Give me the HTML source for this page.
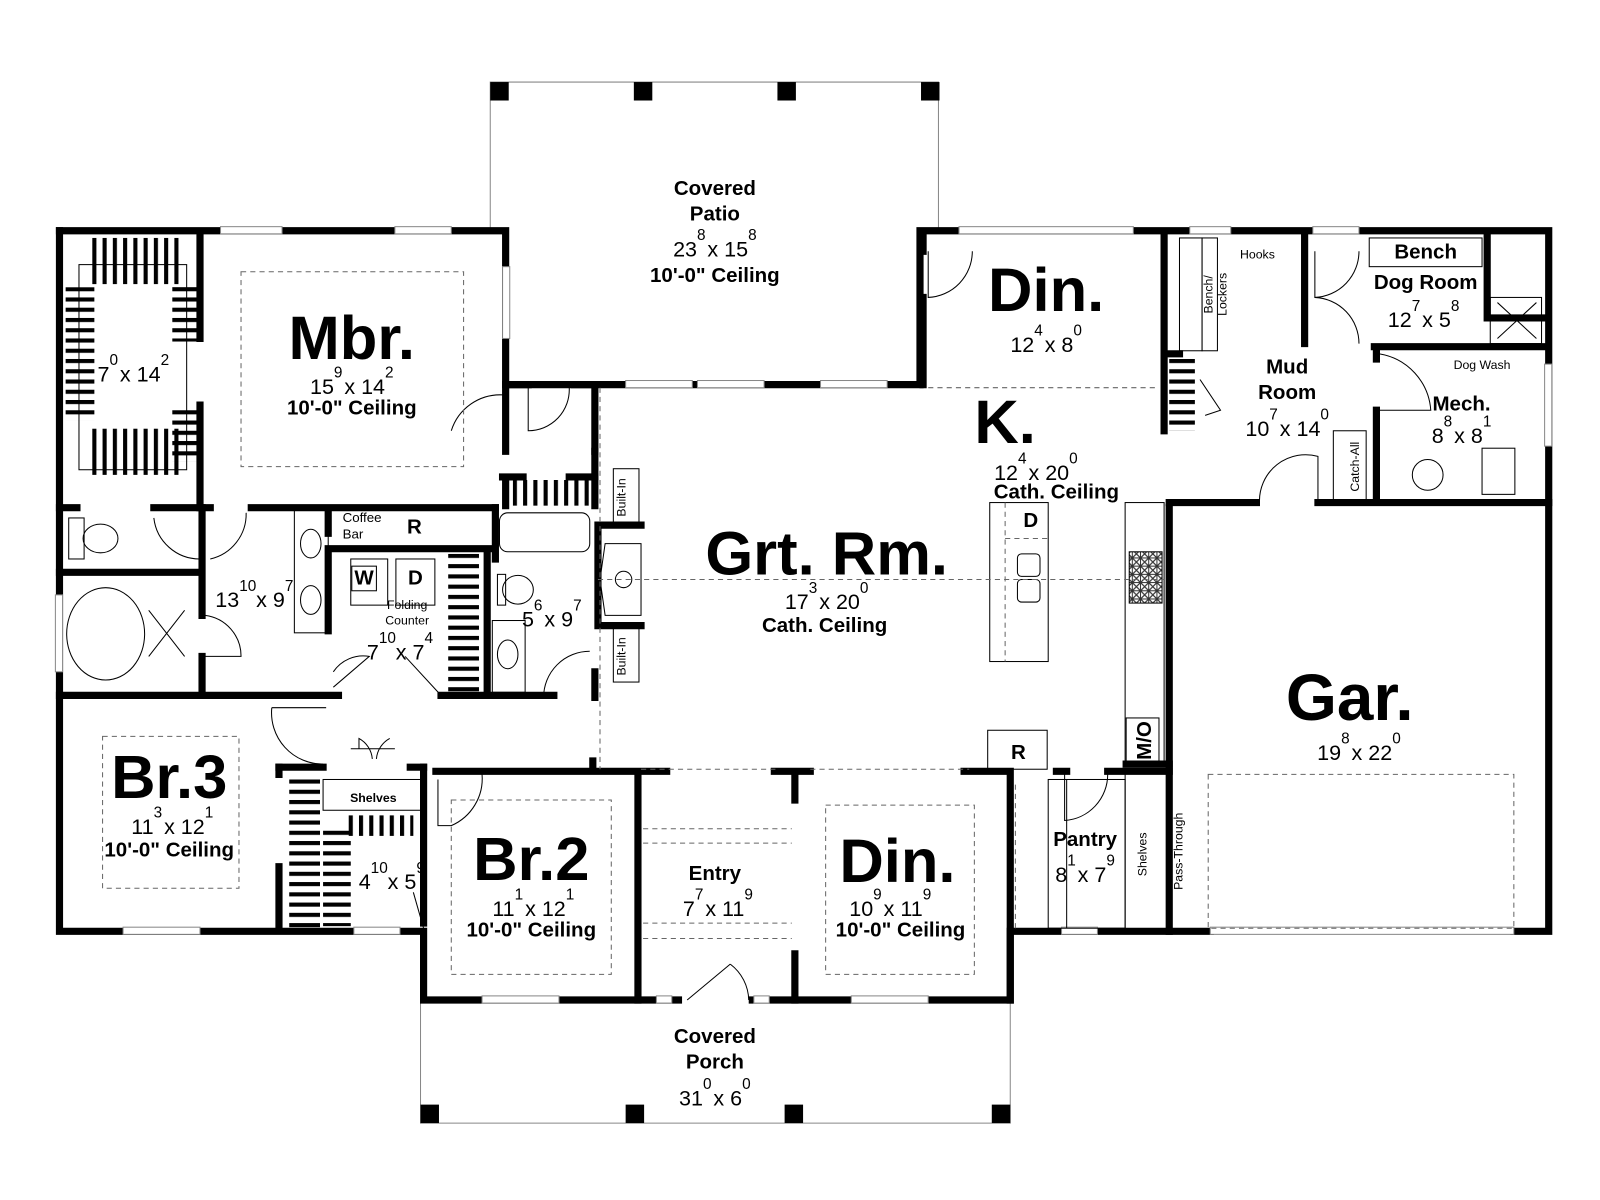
<!DOCTYPE html>
<html><head><meta charset="utf-8"><style>
html,body{margin:0;padding:0;background:#fff;}
svg{display:block;}
text{font-family:"Liberation Sans",Arial,sans-serif;fill:#000;}
.big{font-weight:bold;font-size:60px;text-anchor:middle;}
.d{font-size:21px;text-anchor:middle;}
.d tspan.u{font-size:15px;}
.l{font-size:20px;text-anchor:middle;font-weight:bold;}
.sm{font-size:12px;text-anchor:middle;}
.w{stroke:#000;stroke-width:7;fill:none;stroke-linecap:square;}
.t{stroke:#000;stroke-width:1;fill:none;}
.g{stroke:#888;stroke-width:1;fill:none;}
.ds{stroke:#666;stroke-width:1;fill:none;stroke-dasharray:5 4;}
</style></head><body>
<svg width="1600" height="1200" viewBox="0 0 1560 1170" xmlns="http://www.w3.org/2000/svg">
<defs>
<pattern id="pv" width="10" height="40" patternUnits="userSpaceOnUse"><rect x="0" y="0" width="4" height="40" fill="#000"/></pattern>
<pattern id="ph" width="40" height="10" patternUnits="userSpaceOnUse"><rect x="0" y="0" width="40" height="4" fill="#000"/></pattern>
<pattern id="st" width="8" height="8" patternUnits="userSpaceOnUse"><rect width="8" height="8" fill="#fff"/><path d="M0 0 L8 8 M8 0 L0 8" stroke="#333" stroke-width="1.2"/><rect width="8" height="8" fill="none" stroke="#333" stroke-width="1"/></pattern>
</defs>
<rect width="1560" height="1170" fill="#fff"/>

<path class="g" d="M478 222 V80 H915 V222"/>
<rect x="478" y="80" width="18" height="18"/><rect x="618" y="80" width="18" height="18"/><rect x="758" y="80" width="18" height="18"/><rect x="898" y="80" width="18" height="18"/>
<path class="g" d="M410 975 V1095 H985 V975"/>
<rect x="410" y="1077" width="18" height="18"/><rect x="610" y="1077" width="18" height="18"/><rect x="765" y="1077" width="18" height="18"/><rect x="967" y="1077" width="18" height="18"/>

<path class="w" d="M58 225 H493 V375 H897 V225 H1510 V908 H1476"/>
<path class="w" d="M1180 908 H985 V975 H413 V908 H58 V225"/>
<path class="w" d="M1140 495 V908"/>
<g fill="#fff" stroke="#888" stroke-width="1">
<rect x="215" y="221" width="60" height="7"/><rect x="385" y="221" width="55" height="7"/>
<rect x="490" y="260" width="7" height="70"/>
<rect x="610" y="371" width="65" height="7"/><rect x="680" y="371" width="65" height="7"/><rect x="800" y="371" width="65" height="7"/>
<rect x="935" y="221" width="170" height="7"/><rect x="1160" y="221" width="40" height="7"/><rect x="1280" y="221" width="45" height="7"/>
<rect x="1506" y="355" width="7" height="80"/>
<rect x="54" y="580" width="7" height="75"/>
<rect x="120" y="904" width="75" height="7"/><rect x="345" y="904" width="45" height="7"/>
<rect x="470" y="971" width="75" height="7"/><rect x="640" y="971" width="15" height="7"/><rect x="735" y="971" width="15" height="7"/><rect x="830" y="971" width="75" height="7"/>
<rect x="1035" y="904" width="35" height="7"/>
</g>
<rect x="1180" y="904" width="296" height="7" fill="#fff" stroke="#888" stroke-width="1"/>
<rect x="665" y="970" width="65" height="9" fill="#fff"/>
<path class="t" d="M670 975 L712 940 M712 940 A45 45 0 0 1 730 975"/>

<g class="w">
<path d="M195 228 V330 M195 395 V495"/>
<path d="M58 495 H75 M150 495 H195 M195 495 H205 M245 495 H320 V520 M320 495 H483"/>
<path d="M58 558 H195"/>
<path d="M197 495 V600 M197 640 V678"/>
<path d="M320 535 H480 M320 535 V615"/>
<path d="M483 495 V545 M475 540 V678"/>
<path d="M58 678 H320 M320 678 H330"/>
<path d="M430 678 H475 M475 678 H540"/>
<path d="M493 375 H515 M560 375 H580 V440 M493 440 V375 M493 465 V493 M490 465 H510 M555 465 H580"/>
<path d="M580 440 V493"/>
<path d="M583 512 H625 M583 610 H625 M583 512 V610"/>
<path d="M580 655 V680 M578 742 V750"/>
<path d="M272 748 V755 M272 845 V905"/>
<path d="M272 748 H315 M400 748 H413"/>
<path d="M413 748 V900"/>
<path d="M425 752 H622 M622 752 V975 M622 752 H650 M755 752 H790 M775 752 V780 M775 930 V975 M940 752 H985 M985 752 V975 M1030 752 H1040 M1080 752 H1140"/>
<path d="M900 228 V245 M900 290 V375"/>
<path d="M1135 228 V345 M1135 345 H1150 M1135 345 V420"/>
<path d="M1272 228 V335 M1340 338 H1505 M1342 338 V350 M1342 400 V490 M1140 490 H1225 M1285 490 H1510"/>
<path d="M1450 228 V310 H1505"/>
<path d="M1098 745 H1140"/>
</g>

<rect x="85" y="232" width="90" height="45" fill="url(#pv)"/>
<rect x="85" y="418" width="90" height="45" fill="url(#pv)"/>
<rect x="64" y="280" width="28" height="130" fill="url(#ph)"/>
<rect x="168" y="278" width="26" height="55" fill="url(#ph)"/>
<rect x="168" y="395" width="26" height="55" fill="url(#ph)"/>
<rect class="t" x="77" y="258" width="105" height="200"/>
<rect x="500" y="468" width="75" height="25" fill="url(#pv)"/>
<rect x="437" y="540" width="30" height="135" fill="url(#ph)"/>
<rect x="282" y="755" width="30" height="150" fill="url(#ph)"/>
<rect x="315" y="808" width="27" height="95" fill="url(#ph)"/>
<rect x="338" y="795" width="65" height="20" fill="url(#pv)"/>
<rect x="1140" y="350" width="25" height="70" fill="url(#ph)"/>

<g class="t">
<rect x="67" y="505" width="15" height="40"/><ellipse cx="98" cy="525" rx="17" ry="14"/>
<ellipse cx="103" cy="618" rx="38" ry="45"/>
<path d="M145 595 L180 640 M180 595 L145 640"/>
<rect x="287" y="497" width="33" height="120"/><ellipse cx="303" cy="530" rx="10" ry="14"/><ellipse cx="303" cy="585" rx="10" ry="14"/>
<rect x="487" y="500" width="88" height="38" rx="8"/>
<ellipse cx="505" cy="575" rx="15" ry="14"/><rect x="485" y="560" width="8" height="30"/>
<rect x="480" y="605" width="32" height="70"/><ellipse cx="495" cy="638" rx="10" ry="14"/>
<rect x="342" y="545" width="36" height="45"/><rect x="386" y="545" width="38" height="45"/>
<rect x="343" y="552" width="24" height="24"/>
<rect x="598" y="457" width="25" height="55"/><rect x="598" y="610" width="25" height="55"/>
<path d="M590 530 H625 V600 H590 L585 565 Z"/><circle cx="608" cy="565" r="8"/>
<rect x="965" y="490" width="57" height="155"/><path class="ds" d="M980 490 V645 M980 525 H1022"/>
<rect x="992" y="540" width="22" height="22" rx="4"/><rect x="992" y="565" width="22" height="22" rx="4"/>
<rect x="1097" y="490" width="38" height="255"/>
<rect x="1101" y="538" width="32" height="50" fill="url(#st)"/>
<rect x="1098" y="700" width="32" height="45"/>
<rect x="963" y="712" width="58" height="38"/>
<rect x="1172" y="232" width="15" height="110"/><rect x="1150" y="232" width="22" height="110"/>
<rect x="1335" y="232" width="110" height="28"/>
<rect x="1453" y="290" width="50" height="45"/><path d="M1460 295 L1498 330 M1498 295 L1460 330"/>
<rect x="1300" y="420" width="32" height="68"/>
<ellipse cx="1392" cy="463" rx="15" ry="15"/><rect x="1445" y="437" width="32" height="45"/>
<rect x="315" y="760" width="98" height="30"/>
<rect x="1022" y="760" width="75" height="145"/><path d="M1040 760 V905"/>
<path d="M1097 752 V905"/>
<path d="M440 420 A50 50 0 0 1 490 385 M515 378 V420 A40 40 0 0 0 555 378"/>
<path d="M150 505 A45 45 0 0 0 195 545 M240 500 A45 45 0 0 1 205 545"/>
<path d="M200 600 A40 40 0 0 1 235 640 H200"/>
<path d="M325 655 A35 35 0 0 1 360 640 L325 670 M395 640 L430 678"/>
<path d="M530 680 A45 45 0 0 1 575 635"/>
<path d="M265 690 H318 M265 690 A50 50 0 0 0 315 745"/>
<path d="M342 730 H385 M350 730 V720 A25 25 0 0 1 363 740 M380 720 A25 25 0 0 0 367 740"/>
<path d="M427 760 V805 H440 A50 50 0 0 0 470 755"/>
<path d="M403 870 L413 905"/>
<path d="M905 245 V290 A45 45 0 0 0 948 245"/>
<path d="M1170 370 L1190 400 L1175 405"/>
<path d="M1282 245 V290 A45 45 0 0 0 1325 245 M1282 290 A45 45 0 0 1 1325 335"/>
<path d="M1345 345 A60 60 0 0 1 1395 400 H1342"/>
<path d="M1228 490 A45 45 0 0 1 1285 445 V490"/>
<path d="M1038 755 V800 A45 45 0 0 0 1080 755"/>
</g>
<g class="ds">
<rect x="235" y="265" width="217" height="190"/>
<rect x="100" y="718" width="133" height="148"/>
<rect x="440" y="780" width="156" height="170"/>
<rect x="805" y="785" width="145" height="165"/>
<rect x="1178" y="755" width="298" height="150"/>
<path d="M627 808 H772 M627 822 H772 M627 900 H772 M627 915 H772"/>
<path d="M583 565 H1135 M905 378 H1130 M585 378 V750 M625 750 H760 M790 750 H945"/>
<path d="M990 765 V905"/>
</g>

<text class="l" x="697" y="190">Covered</text><text class="l" x="697" y="215">Patio</text>
<text class="d" x="697" y="250">23<tspan class="u" dy="-16">8</tspan><tspan dy="16" dx="-4"> x 15</tspan><tspan class="u" dy="-16">8</tspan></text>
<text class="l" x="697" y="275">10'-0" Ceiling</text>

<text class="big" x="343" y="350">Mbr.</text>
<text class="d" x="343" y="384">15<tspan class="u" dy="-16">9</tspan><tspan dy="16" dx="-4"> x 14</tspan><tspan class="u" dy="-16">2</tspan></text>
<text class="l" x="343" y="404">10'-0" Ceiling</text>

<text class="d" x="130" y="372">7<tspan class="u" dy="-16">0</tspan><tspan dy="16" dx="-4"> x 14</tspan><tspan class="u" dy="-16">2</tspan></text>

<text class="big" x="1020" y="303">Din.</text>
<text class="d" x="1020" y="343">12<tspan class="u" dy="-16">4</tspan><tspan dy="16" dx="-4"> x 8</tspan><tspan class="u" dy="-16">0</tspan></text>

<text class="big" x="980" y="432">K.</text>
<text class="d" x="1010" y="468">12<tspan class="u" dy="-16">4</tspan><tspan dy="16" dx="-4"> x 20</tspan><tspan class="u" dy="-16">0</tspan></text>
<text class="l" x="1030" y="486">Cath. Ceiling</text>

<text class="big" x="806" y="560">Grt. Rm.</text>
<text class="d" x="806" y="594">17<tspan class="u" dy="-16">3</tspan><tspan dy="16" dx="-4"> x 20</tspan><tspan class="u" dy="-16">0</tspan></text>
<text class="l" x="804" y="616">Cath. Ceiling</text>

<text class="big" x="1316" y="702" style="font-size:64px">Gar.</text>
<text class="d" x="1325" y="741">19<tspan class="u" dy="-16">8</tspan><tspan dy="16" dx="-4"> x 22</tspan><tspan class="u" dy="-16">0</tspan></text>

<text class="big" x="165" y="778">Br.3</text>
<text class="d" x="168" y="813">11<tspan class="u" dy="-16">3</tspan><tspan dy="16" dx="-4"> x 12</tspan><tspan class="u" dy="-16">1</tspan></text>
<text class="l" x="165" y="835">10'-0" Ceiling</text>

<text class="big" x="518" y="858">Br.2</text>
<text class="d" x="520" y="893">11<tspan class="u" dy="-16">1</tspan><tspan dy="16" dx="-4"> x 12</tspan><tspan class="u" dy="-16">1</tspan></text>
<text class="l" x="518" y="913">10'-0" Ceiling</text>

<text class="big" x="875" y="860">Din.</text>
<text class="d" x="868" y="893">10<tspan class="u" dy="-16">9</tspan><tspan dy="16" dx="-4"> x 11</tspan><tspan class="u" dy="-16">9</tspan></text>
<text class="l" x="878" y="913">10'-0" Ceiling</text>

<text class="l" x="697" y="858">Entry</text>
<text class="d" x="700" y="893">7<tspan class="u" dy="-16">7</tspan><tspan dy="16" dx="-4"> x 11</tspan><tspan class="u" dy="-16">9</tspan></text>

<text class="l" x="697" y="1017">Covered</text><text class="l" x="697" y="1042">Porch</text>
<text class="d" x="697" y="1078">31<tspan class="u" dy="-16">0</tspan><tspan dy="16" dx="-4"> x 6</tspan><tspan class="u" dy="-16">0</tspan></text>

<text class="l" x="1058" y="825">Pantry</text>
<text class="d" x="1058" y="860">8<tspan class="u" dy="-16">1</tspan><tspan dy="16" dx="-4"> x 7</tspan><tspan class="u" dy="-16">9</tspan></text>

<text class="l" x="1255" y="364">Mud</text><text class="l" x="1255" y="389">Room</text>
<text class="d" x="1255" y="425">10<tspan class="u" dy="-16">7</tspan><tspan dy="16" dx="-4"> x 14</tspan><tspan class="u" dy="-16">0</tspan></text>

<text class="l" x="1390" y="252">Bench</text>
<text class="l" x="1390" y="282">Dog Room</text>
<text class="d" x="1388" y="319">12<tspan class="u" dy="-16">7</tspan><tspan dy="16" dx="-4"> x 5</tspan><tspan class="u" dy="-16">8</tspan></text>

<text class="l" x="1425" y="400">Mech.</text>
<text class="d" x="1425" y="432">8<tspan class="u" dy="-16">8</tspan><tspan dy="16" dx="-4"> x 8</tspan><tspan class="u" dy="-16">1</tspan></text>

<text class="d" x="248" y="592">13<tspan class="u" dy="-16">10</tspan><tspan dy="16" dx="-6"> x 9</tspan><tspan class="u" dy="-16">7</tspan></text>
<text class="d" x="538" y="611">5<tspan class="u" dy="-16">6</tspan><tspan dy="16" dx="-4"> x 9</tspan><tspan class="u" dy="-16">7</tspan></text>
<text class="d" x="390" y="643">7<tspan class="u" dy="-16">10</tspan><tspan dy="16" dx="-6"> x 7</tspan><tspan class="u" dy="-16">4</tspan></text>
<text class="d" x="382" y="867">4<tspan class="u" dy="-16">10</tspan><tspan dy="16" dx="-6"> x 5</tspan><tspan class="u" dy="-16">9</tspan></text>

<text x="334" y="509" style="font-size:13px">Coffee</text><text x="334" y="525" style="font-size:13px">Bar</text>
<text class="l" x="404" y="520">R</text>
<text class="l" x="355" y="570">W</text><text class="l" x="405" y="570">D</text>
<text class="sm" x="397" y="594">Folding</text><text class="sm" x="397" y="609">Counter</text>
<text class="l" x="1005" y="514">D</text>
<text class="l" x="993" y="740">R</text>
<text class="sm" x="364" y="782" style="font-weight:bold">Shelves</text>
<text class="sm" x="1226" y="252">Hooks</text>
<text class="sm" x="1445" y="360">Dog Wash</text>
<text class="sm" transform="translate(610 485) rotate(-90)">Built-In</text>
<text class="sm" transform="translate(610 640) rotate(-90)">Built-In</text>
<text class="sm" transform="translate(1182 287) rotate(-90)">Bench/</text>
<text class="sm" transform="translate(1196 287) rotate(-90)">Lockers</text>
<text class="sm" transform="translate(1325 455) rotate(-90)">Catch-All</text>
<text class="sm" transform="translate(1118 833) rotate(-90)">Shelves</text>
<text class="sm" transform="translate(1153 830) rotate(-90)">Pass-Through</text>
<text class="l" transform="translate(1122 722) rotate(-90)">M/O</text>
</svg>
</body></html>
